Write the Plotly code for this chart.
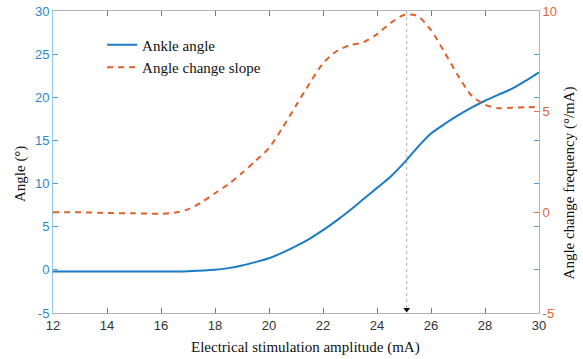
import plotly.graph_objects as go

# Ankle angle (left axis, degrees)
x_angle = [12, 13, 14, 15, 16, 17, 18, 18.5, 19, 19.5, 20, 20.5, 21, 21.5, 22, 22.5,
           23, 23.5, 24, 24.5, 25, 25.5, 26, 26.5, 27, 27.5, 28, 28.5, 29, 29.5, 30]
angle = [-0.2, -0.2, -0.2, -0.2, -0.2, -0.15, 0.0, 0.2, 0.5, 0.9, 1.35, 2.0, 2.75, 3.6, 4.6, 5.7,
         6.9, 8.2, 9.5, 10.8, 12.4, 14.2, 15.8, 16.9, 17.9, 18.8, 19.6, 20.3, 21.0, 21.9, 22.9]

# Angle change slope (right axis, deg/mA)
x_slope = [12, 13, 14, 15, 16, 16.5, 17, 17.5, 18, 18.5, 19, 19.5, 20, 20.5, 21, 21.5, 22,
           22.5, 23, 23.5, 24, 24.5, 25, 25.5, 26, 26.5, 27, 27.5, 28, 28.5, 29, 29.5, 30]
slope = [0.0, 0.0, -0.03, -0.05, -0.07, -0.02, 0.15, 0.5, 0.95, 1.4, 1.95, 2.55, 3.2, 4.2, 5.3,
         6.4, 7.4, 8.0, 8.3, 8.45, 8.85, 9.4, 9.8, 9.75, 9.05, 7.95, 6.8, 5.8, 5.35, 5.17, 5.2,
         5.22, 5.24]

# Marker of the peak slope
peak_x = 25.1
marker_y = [30, -4.6]

x_ticks = [12, 14, 16, 18, 20, 22, 24, 26, 28, 30]
y_ticks = [-5, 0, 5, 10, 15, 20, 25, 30]
y_ticklabels = ["-5", "0", "5", "10", "15", "20", "25", "30"]
y2_ticks = [-5, 0, 5, 10]
y2_ticklabels = ["-5", "0", "5", "10"]

BLUE = "#1a7cc4"
ORANGE = "#e0602a"
SERIF = "Liberation Serif"
SANS = "Liberation Sans"

fig = go.Figure()
fig.add_trace(go.Scatter(x=[peak_x, peak_x], y=marker_y, mode="lines",
                         line=dict(color="#b0b0b0", width=1, dash="3px,3px"),
                         showlegend=False, hoverinfo="skip"))
fig.add_trace(go.Scatter(x=[peak_x], y=[marker_y[1]], mode="markers",
                         marker=dict(symbol="triangle-down", size=6, color="#111"),
                         showlegend=False, hoverinfo="skip"))
fig.add_trace(go.Scatter(x=x_angle, y=angle, mode="lines", name="Ankle angle",
                         line=dict(color=BLUE, width=2, shape="spline", smoothing=0.8),
                         yaxis="y"))
fig.add_trace(go.Scatter(x=x_slope, y=slope, mode="lines", name="Angle change slope",
                         line=dict(color=ORANGE, width=2, dash="6px,5px", shape="spline",
                                   smoothing=0.8),
                         yaxis="y2"))

fig.update_layout(
    width=583, height=359,
    margin=dict(l=53, r=44, t=10.5, b=45.5, pad=0, autoexpand=False),
    paper_bgcolor="white", plot_bgcolor="white",
    showlegend=True,
    legend=dict(x=0.101, y=0.942, xanchor="left", yanchor="top",
                bgcolor="rgba(0,0,0,0)", borderwidth=0,
                font=dict(family=SERIF, size=15, color="#111"),
                tracegroupgap=0, itemwidth=30),
    xaxis=dict(range=[12, 30], tickvals=x_ticks, ticks="inside", ticklen=5,
               tickcolor="#777", showline=True, linecolor="#b0b0b0", linewidth=1,
               mirror="ticks", showgrid=False, zeroline=False, automargin=False,
               tickfont=dict(family=SANS, size=13, color="#333")),
    yaxis=dict(range=[-5, 30], tickvals=y_ticks, ticktext=y_ticklabels, ticks="inside",
               ticklen=5, tickcolor="#4f9fd6", showline=True, linecolor="#93c5e8",
               linewidth=1, mirror="ticks", showgrid=False, zeroline=False, automargin=False,
               tickfont=dict(family=SANS, size=13, color="#2a88cf")),
    yaxis2=dict(range=[-5, 10], tickvals=y2_ticks, ticktext=y2_ticklabels, ticks="inside",
                ticklen=5, tickcolor="#e07040", showline=True, linecolor="#eba07e",
                linewidth=1, overlaying="y", side="right", showgrid=False, zeroline=False,
                automargin=False,
                tickfont=dict(family=SANS, size=13, color="#e0662e")),
    annotations=[
        dict(text="Electrical stimulation amplitude (mA)", xref="paper", yref="paper",
             x=0.52, y=-0.114, xanchor="center", yanchor="middle", showarrow=False,
             font=dict(family=SERIF, size=15, color="#111")),
        dict(text="Angle (°)", xref="paper", yref="paper", x=-0.068, y=0.46,
             xanchor="center", yanchor="middle", textangle=-90, showarrow=False,
             font=dict(family=SERIF, size=15, color="#111")),
        dict(text="Angle change frequency (°/mA)", xref="paper", yref="paper",
             x=1.063, y=0.431, xanchor="center", yanchor="middle", textangle=-90,
             showarrow=False, font=dict(family=SERIF, size=15, color="#111")),
    ],
)

fig.write_html("out.html")
